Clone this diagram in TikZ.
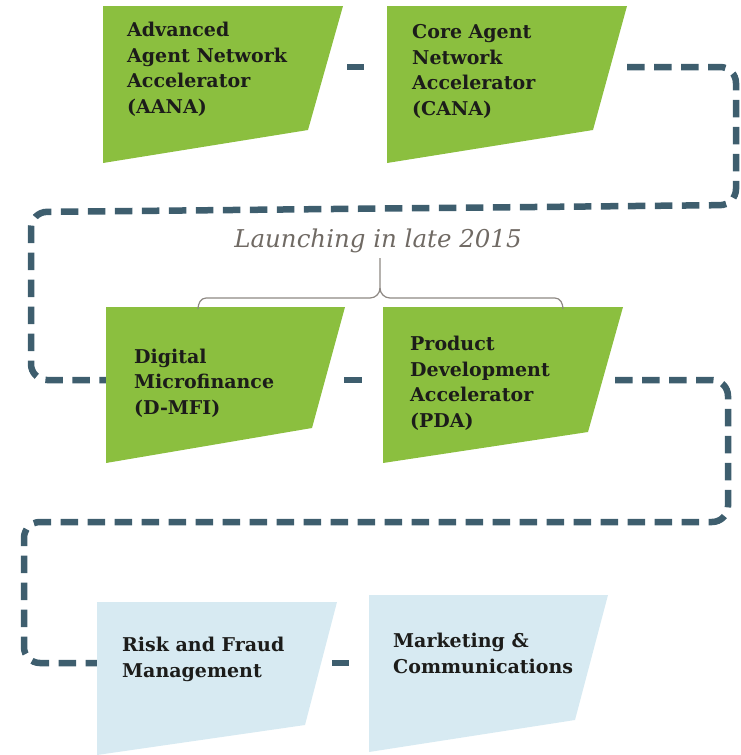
\documentclass[tikz,border=0pt]{standalone}
\usepackage{fontspec}
\setmainfont{DejaVu Serif}
\definecolor{flowblue}{RGB}{62,94,110}
\definecolor{boxgreen}{RGB}{139,191,63}
\definecolor{boxblue}{RGB}{215,234,242}
\definecolor{labeltext}{RGB}{28,28,26}
\definecolor{notegray}{RGB}{112,106,100}
\begin{document}
\begin{tikzpicture}[x=1pt,y=-1pt,
  flow/.style={draw=flowblue, line width=6.5pt, dash pattern=on 17.5pt off 9.5pt, rounded corners=16pt},
  link/.style={draw=flowblue, line width=6.5pt},
  greenbox/.style={fill=boxgreen},
  bluebox/.style={fill=boxblue},
  % anchored at the baseline of the last line
  lbl/.style={anchor=base west, align=left, inner sep=0pt, text=labeltext,
    font=\bfseries\fontsize{19}{25.5}\selectfont},
  note/.style={anchor=base, inner sep=0pt, text=notegray,
    font=\itshape\fontsize{24.5}{28}\selectfont},
  bracket/.style={draw=notegray!80, line width=1.2pt}]
\useasboundingbox (0,0) rectangle (741,755);

% serpentine dashed routes linking the programmes
\coordinate (a0) at (627,67);
\coordinate (a1) at (736,67);
\coordinate (a2) at (736,205);
\coordinate (a3) at (31,212);
\coordinate (a4) at (31,380);
\coordinate (a5) at (160,380);
\draw[flow] (a0) -- (a1) -- (a2) -- (a3) -- (a4) -- (a5);
\coordinate (b0) at (615,380);
\coordinate (b1) at (728,380);
\coordinate (b2) at (728,522);
\coordinate (b3) at (24,522);
\coordinate (b4) at (24,663);
\coordinate (b5) at (160,663);
\draw[flow] (b0) -- (b1) -- (b2) -- (b3) -- (b4) -- (b5);

% short links between neighbouring panels
\coordinate (l1a) at (347,67);  \coordinate (l1b) at (364,67);
\coordinate (l2a) at (344,380); \coordinate (l2b) at (362,380);
\coordinate (l3a) at (332,663); \coordinate (l3b) at (349,663);
\draw[link] (l1a) -- (l1b);
\draw[link] (l2a) -- (l2b);
\draw[link] (l3a) -- (l3b);

% programme panels
\path[greenbox] (103,6) -- (343,6) -- (308,130) -- (103,163) -- cycle;
\path[greenbox] (387,6) -- (627,6) -- (593,130) -- (387,163) -- cycle;
\path[greenbox] (106,307) -- (345,307) -- (312,428) -- (106,463) -- cycle;
\path[greenbox] (383,307) -- (623,307) -- (588,432) -- (383,463) -- cycle;
\path[bluebox] (97,602) -- (337,602) -- (305,725) -- (97,755) -- cycle;
\path[bluebox] (369,595) -- (608,595) -- (575,720) -- (369,752) -- cycle;

% panel labels
\node[lbl] (aana) at (127,113) {Advanced\\Agent Network\\Accelerator\\(AANA)};
\node[lbl] (cana) at (412,115) {Core Agent\\Network\\Accelerator\\(CANA)};
\node[lbl] (dmfi) at (134,414) {Digital\\Microfinance\\(D-MFI)};
\node[lbl] (pda) at (410,427) {Product\\Development\\Accelerator\\(PDA)};
\node[lbl] (risk) at (122,677) {Risk and Fraud\\Management};
\node[lbl] (mkt) at (393,673) {Marketing \&\\Communications};

% launch note with its bracket
\node[note] (launch) at (378,247) {Launching in late 2015};
\coordinate (tip) at (380,258);
\coordinate (bl) at (198,309);
\coordinate (br) at (563,309);
\draw[bracket] (tip) -- (380,288) to[out=270,in=0] (370,298) -- (206,298) to[out=180,in=90] (bl);
\draw[bracket] (380,288) to[out=270,in=180] (390,298) -- (555,298) to[out=0,in=90] (br);
\end{tikzpicture}
\end{document}
